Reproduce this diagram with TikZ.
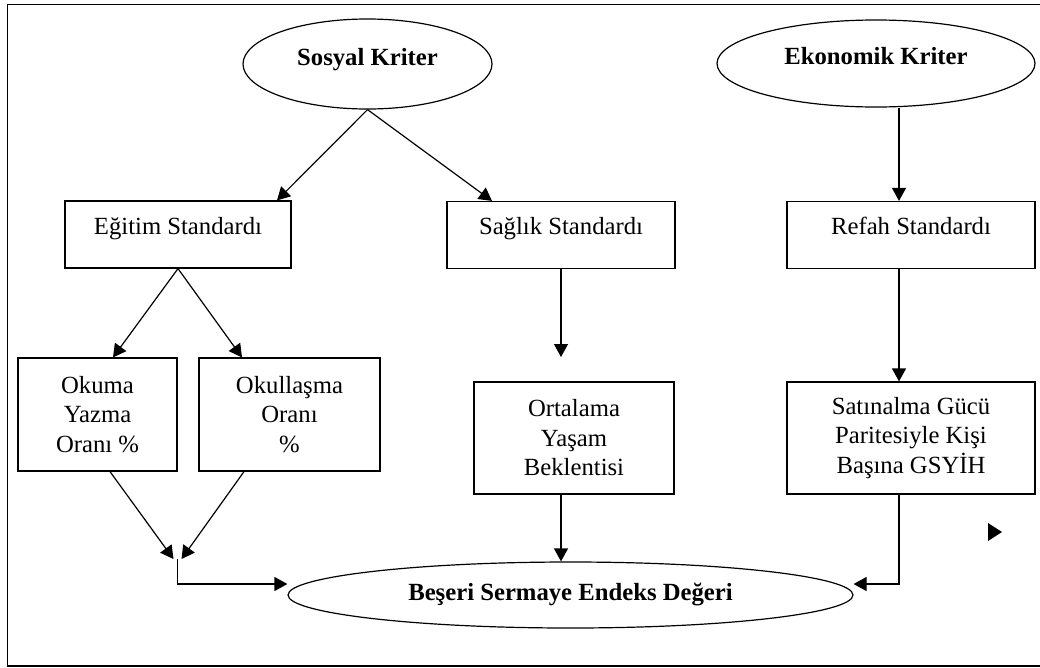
\documentclass[tikz,border=0pt]{standalone}
\usepackage{fontspec}
\setmainfont{Liberation Serif}
\usetikzlibrary{arrows.meta,shapes.geometric}
\newcommand{\yazi}{\fontsize{24.7}{29.5}\selectfont}
\tikzset{kriter/.style={ellipse, draw, line width=1.2pt, inner sep=0pt, font=\yazi\bfseries, text height=17pt, text depth=15pt}}
\tikzset{kutu/.style={rectangle, draw, line width=1.2pt, inner sep=0pt, align=center, font=\yazi}}
\tikzset{tekkutu/.style={kutu, text height=33pt, text depth=34pt}}
\tikzset{ok/.style={line width=1.2pt, -{Triangle[length=13pt,width=14pt]}}}

\begin{document}
\begin{tikzpicture}[x=1pt, y=-1pt]
  \useasboundingbox (0,0) rectangle (1040,667);
  \draw[line width=1.5pt] (1040,4.5) -- (7.5,4.5) -- (7.5,666) -- (1040,666);

  % kriterler
  \node[kriter, minimum width=249pt, minimum height=90pt] (sosyal) at (367.5,64) {Sosyal Kriter};
  \node[kriter, minimum width=318pt, minimum height=87pt] (ekonomik) at (876,63.5) {Ekonomik Kriter};

  % standartlar
  \node[tekkutu, minimum width=226pt] (egitim) at (178,234.5) {Eğitim Standardı};
  \node[tekkutu, minimum width=228pt] (saglik) at (561,235) {Sağlık Standardı};
  \node[tekkutu, minimum width=248pt] (refah) at (911,235) {Refah Standardı};

  % göstergeler
  \node[kutu, minimum width=159pt, minimum height=113pt] (okuma) at (97.5,414.5) {Okuma\\Yazma\\Oranı \%};
  \node[kutu, minimum width=181pt, minimum height=113pt] (okullasma) at (289.5,414.5) {Okullaşma\\Oranı\\\%};
  \node[kutu, minimum width=200pt, minimum height=112pt] (ortalama) at (574,438) {Ortalama\\Yaşam\\Beklentisi};
  \node[kutu, minimum width=248pt, minimum height=112pt] (satinalma) at (911,438) {Satınalma Gücü\\Paritesiyle Kişi\\Başına GSYİH};

  \node[kriter, text depth=6pt, minimum width=565pt, minimum height=66pt] (beseri) at (570.5,595) {Beşeri Sermaye Endeks Değeri};

  \coordinate (refahust) at ([xshift=-12pt]refah.north);
  \coordinate (saglikuc) at (561,357);
  \coordinate (ortaalt) at ([xshift=-13pt]ortalama.south);
  \coordinate (bir) at (177.5,559);

  \draw[ok] (sosyal.south) -- ([xshift=99pt]egitim.north);
  \draw[ok] (sosyal.south) -- ([xshift=-69pt]saglik.north);
  \draw[ok] (ekonomik.south -| refahust) -- (refahust);

  \draw[ok] (egitim.south) -- ([xshift=15.5pt]okuma.north);
  \draw[ok] (egitim.south) -- ([xshift=-47.5pt]okullasma.north);
  \draw[ok] (saglik.south) -- (saglikuc);
  \draw[ok] (refah.south -| refahust) -- (satinalma.north -| refahust);

  \draw[ok] ([xshift=12.5pt]okuma.south) -- ([xshift=-4pt]bir);
  \draw[ok] ([xshift=-45.5pt]okullasma.south) -- ([xshift=4pt]bir);
  \draw[ok] (bir) |- ([yshift=11pt]beseri.west);
  \draw[ok] (ortaalt) -- (beseri.north -| ortaalt);
  \draw[ok] (satinalma.south -| refahust) |- ([yshift=11pt]beseri.east);

  \fill (988,523) -- (1002,532) -- (988,541) -- cycle;
\end{tikzpicture}
\end{document}
